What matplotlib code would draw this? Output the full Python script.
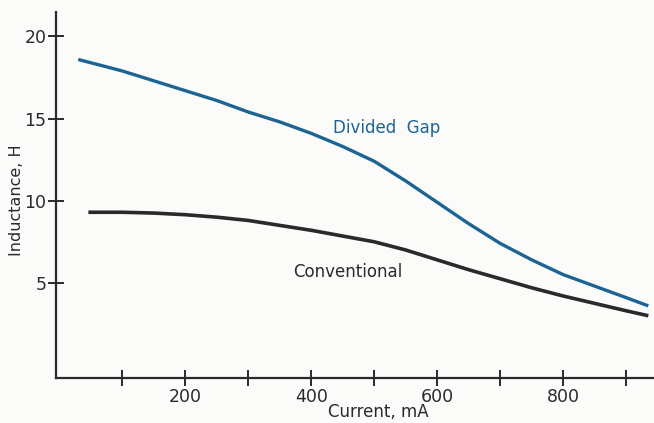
import matplotlib.pyplot as plt

# values
gap_current = [30, 100, 150, 200, 250, 300, 350, 400, 450, 500, 550, 600,
               650, 700, 750, 800, 850, 900, 935]
gap_inductance = [18.6, 17.9, 17.3, 16.7, 16.1, 15.4, 14.8, 14.1, 13.3, 12.4,
                  11.2, 9.9, 8.6, 7.4, 6.4, 5.5, 4.8, 4.1, 3.6]

conv_current = [46, 100, 150, 200, 250, 300, 350, 400, 450, 500, 550, 600,
                650, 700, 750, 800, 850, 900, 935]
conv_inductance = [9.3, 9.3, 9.25, 9.15, 9.0, 8.8, 8.5, 8.2, 7.85, 7.5, 7.0,
                   6.4, 5.8, 5.25, 4.7, 4.2, 3.75, 3.3, 3.0]

x_ticks = [100, 200, 300, 400, 500, 600, 700, 800, 900]
x_labels = ['', '200', '', '400', '', '600', '', '800', '']
y_ticks = [5, 10, 15, 20]

ink = '#2a2a2a'
blue = '#1c6494'

fig = plt.figure(figsize=(6.54, 4.23), dpi=100)
fig.patch.set_facecolor('#fbfbf9')
ax = fig.add_axes([0.086, 0.106, 0.914, 0.866])
ax.set_facecolor('#fbfbf9')

ax.plot(gap_current, gap_inductance, color=blue, lw=2.4,
        solid_capstyle='butt', solid_joinstyle='round')
ax.plot(conv_current, conv_inductance, color=ink, lw=2.6,
        solid_capstyle='butt', solid_joinstyle='round')

ax.text(435, 14.4, 'Divided  Gap', color=blue, fontsize=12,
        va='center', ha='left')
ax.text(371, 5.65, 'Conventional', color=ink, fontsize=12,
        va='center', ha='left')

ax.set_xlim(-5, 944)
ax.set_ylim(-0.8, 21.5)
ax.set_xticks(x_ticks)
ax.set_xticklabels(x_labels)
ax.set_yticks(y_ticks)

for s in ['top', 'right']:
    ax.spines[s].set_visible(False)
for s in ['left', 'bottom']:
    ax.spines[s].set_linewidth(1.6)
    ax.spines[s].set_color(ink)

ax.tick_params(direction='inout', length=12, width=1.4, colors=ink,
               labelsize=12.5, pad=1)

ax.set_xlabel('Current, mA', fontsize=12, color=ink)
ax.xaxis.set_label_coords(0.538, -0.068)
ax.set_ylabel('Inductance, H', fontsize=11.5, color=ink)
ax.yaxis.set_label_coords(-0.066, 0.486)
ax.yaxis.label.set_va('center')

fig.savefig('out.png', dpi=100, facecolor=fig.get_facecolor())
